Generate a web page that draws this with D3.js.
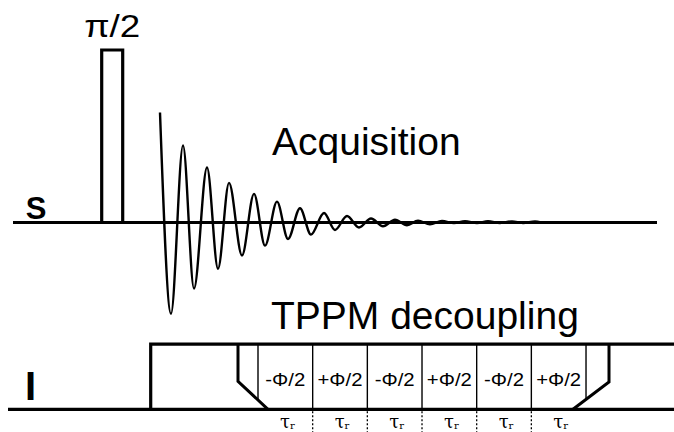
<!DOCTYPE html>
<html>
<head>
<meta charset="utf-8">
<script src="https://cdn.jsdelivr.net/npm/d3@7"></script>
<style>
  html, body { margin: 0; padding: 0; background: #fff; }
  svg { display: block; font-family: "Liberation Sans", Arial, sans-serif; }
</style>
</head>
<body>
<svg id="seq" width="674" height="432"></svg>
<script>
// Pulse sequence: S-channel π/2 pulse + FID acquisition, I-channel TPPM decoupling.
// Time in arbitrary units along the horizontal axis.

const channels = ["S", "I"];
const timeExtent = [0, 66.6];

// S channel
const sLineTime = [0.5, 64.9];
const pulseLabel = "π/2";
const pulseTime = [9.37, 11.47];
const pulseAmp = 1.568;
const acqLabel = "Acquisition";

// FID extrema (time, amplitude), first point is the start of acquisition
const fidTime = [15.2, 16.3, 17.5, 18.6, 19.9, 21.0, 22.1, 23.4, 24.6, 25.7,
                 26.9, 28.0, 29.2, 30.3, 31.6, 32.7, 33.9, 35.1, 36.3, 37.5,
                 38.7, 39.9, 41.0, 42.2, 43.4, 44.6, 45.7, 46.9, 48.0, 49.2,
                 50.4, 51.5, 52.7, 53.3];
const fidAmp  = [1.00, -0.83, 0.70, -0.60, 0.50, -0.42, 0.36, -0.30, 0.26, -0.21,
                 0.19, -0.15, 0.13, -0.11, 0.086, -0.068, 0.059, -0.045, 0.036, -0.034,
                 0.025, -0.025, 0.016, -0.016, 0.013, -0.006, 0.012, -0.005, 0.011, -0.004,
                 0.010, -0.004, 0.009, 0];

// I channel
const decLabel = "TPPM decoupling";
const decStart = 14.27;
const rampLeft = { top: 23.0, bottom: 26.0, knee: 0.43 };
const rampRight = { top: 60.1, bottom: 56.5, knee: 0.42 };
const tppmStart = 25.0;
const tauR = 5.467;
const tppmPhases = ["-Φ/2", "+Φ/2", "-Φ/2", "+Φ/2", "-Φ/2", "+Φ/2"];
const rotorLabel = "τ";
const rotorSub = "r";

const svg = d3.select("#seq");
const x = d3.scaleLinear().domain(timeExtent).range([8, 674]);
const yS = d3.scaleLinear().domain([-1, 1]).range([332.5, 112.5]);
const yI = d3.scaleLinear().domain([0, 1]).range([409.3, 344.2]);

const ink = "#000";

// ---- S channel ----
svg.append("line")
  .attr("x1", x(sLineTime[0])).attr("x2", x(sLineTime[1]))
  .attr("y1", yS(0)).attr("y2", yS(0))
  .attr("stroke", ink).attr("stroke-width", 3.2);

svg.append("path")
  .attr("d", d3.line()([[x(pulseTime[0]), yS(0)], [x(pulseTime[0]), yS(pulseAmp)],
                        [x(pulseTime[1]), yS(pulseAmp)], [x(pulseTime[1]), yS(0)]]))
  .attr("fill", "none").attr("stroke", ink).attr("stroke-width", 3.2)
  .attr("stroke-linejoin", "miter");

svg.append("text")
  .attr("x", (x(pulseTime[0]) + x(pulseTime[1])) / 2)
  .attr("y", 36.7)
  .attr("text-anchor", "middle")
  .attr("font-size", 31)
  .attr("textLength", 56).attr("lengthAdjust", "spacingAndGlyphs")
  .text(pulseLabel);

const fid = d3.line()
  .x((d, i) => x(fidTime[i]))
  .y(d => yS(d))
  .curve(d3.curveMonotoneX);
svg.append("path")
  .attr("d", fid(fidAmp))
  .attr("fill", "none").attr("stroke", ink).attr("stroke-width", 2.4);

svg.append("text")
  .attr("x", 272).attr("y", 155)
  .attr("font-size", 39)
  .text(acqLabel);

svg.append("text")
  .attr("x", 36).attr("y", 218.5)
  .attr("text-anchor", "middle")
  .attr("font-size", 31).attr("font-weight", "bold")
  .text(channels[0]);

// ---- I channel ----
svg.append("line")
  .attr("x1", x(timeExtent[0])).attr("x2", x(timeExtent[1]))
  .attr("y1", yI(0)).attr("y2", yI(0))
  .attr("stroke", ink).attr("stroke-width", 3.2);

svg.append("path")
  .attr("d", d3.line()([[x(decStart), yI(0)], [x(decStart), yI(1)], [x(timeExtent[1]), yI(1)]]))
  .attr("fill", "none").attr("stroke", ink).attr("stroke-width", 3.2);

[rampLeft, rampRight].forEach(r => {
  svg.append("path")
    .attr("d", d3.line()([[x(r.top), yI(1)], [x(r.top), yI(r.knee)], [x(r.bottom), yI(0)]]))
    .attr("fill", "none").attr("stroke", ink).attr("stroke-width", 3)
    .attr("stroke-linejoin", "miter");
});

// amplitude of a ramp's slanted edge at time t
function rampAmp(r, t) {
  return r.knee * (t - r.bottom) / (r.top - r.bottom);
}

const bounds = d3.range(tppmPhases.length + 1).map(i => tppmStart + i * tauR);
bounds.forEach((t, i) => {
  let lo = 0;
  if (i === 0) lo = rampAmp(rampLeft, t);
  if (i === bounds.length - 1) lo = rampAmp(rampRight, t);
  svg.append("line")
    .attr("x1", x(t)).attr("x2", x(t))
    .attr("y1", yI(1)).attr("y2", yI(Math.max(lo, 0)))
    .attr("stroke", ink).attr("stroke-width", 1.4);
  if (i > 0 && i < bounds.length - 1) {
    svg.append("line")
      .attr("x1", x(t)).attr("x2", x(t))
      .attr("y1", yI(0) + 2).attr("y2", 432)
      .attr("stroke", ink).attr("stroke-width", 1.3)
      .attr("stroke-dasharray", "2,2");
  }
});

tppmPhases.forEach((p, i) => {
  const cx = x(tppmStart + (i + 0.5) * tauR);
  svg.append("text")
    .attr("x", cx).attr("y", 385.5)
    .attr("text-anchor", "middle")
    .attr("font-size", 19)
    .attr("textLength", p.startsWith("+") ? 45 : 40)
    .attr("lengthAdjust", "spacingAndGlyphs")
    .text(p);

  const tau = svg.append("text")
    .attr("x", cx + 2).attr("y", 427.5)
    .attr("text-anchor", "middle")
    .attr("font-size", 18)
    .attr("font-family", "'DejaVu Serif', serif");
  tau.append("tspan").text(rotorLabel);
  tau.append("tspan").attr("font-size", 10).attr("dy", 1.5).text(rotorSub);
});

svg.append("text")
  .attr("x", 271).attr("y", 329.3)
  .attr("font-size", 39)
  .text(decLabel);

svg.append("text")
  .attr("x", 30.5).attr("y", 399.5)
  .attr("text-anchor", "middle")
  .attr("font-size", 40).attr("font-weight", "bold")
  .text(channels[1]);
</script>
</body>
</html>
